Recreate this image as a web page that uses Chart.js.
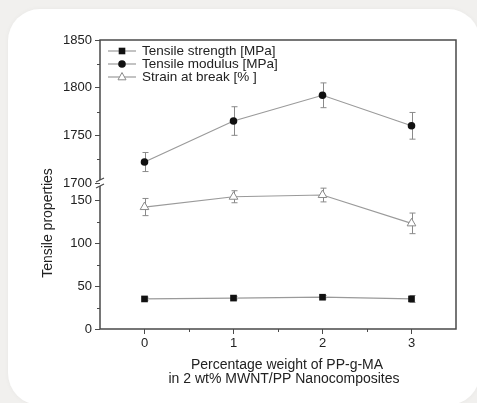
<!DOCTYPE html>
<html>
<head>
<meta charset="utf-8">
<title>Tensile properties</title>
<script src="https://cdn.jsdelivr.net/npm/chart.js@4.4.0/dist/chart.umd.min.js"></script>
<style>
    html, body { margin: 0; padding: 0; width: 477px; height: 403px; overflow: hidden; background: #f1f0ee; }
    .card { position: absolute; left: 8px; top: 9px; width: 472px; height: 396px; background: #fff; border-radius: 32px; box-shadow: 0 0 5px rgba(0,0,0,0.04); }
    #chart { position: absolute; left: 0; top: 0; }
</style>
</head>
<body>
<div class="card"></div>
<canvas id="chart" width="477" height="403"></canvas>
<script>
// data
const loadings = [0, 1, 2, 3];
const strength = [35, 36, 37, 35];
const strengthErr = [2, 2, 2, 4];
const modulus = [1722, 1765, 1792, 1760];
const modulusErr = [10, 15, 13, 14];
const strain = [142, 154, 156, 123];
const strainErr = [10, 7, 8, 12];

const xTicks = [0, 1, 2, 3];
const xMinor = [0.5, 1.5, 2.5];
const yLowTicks = [0, 50, 100, 150];
const yLowMinor = [25, 75, 125];
const yHighTicks = [1700, 1750, 1800, 1850];
const yHighMinor = [1725, 1775, 1825];

const legendLabels = ['Tensile strength [MPa]', 'Tensile modulus [MPa]', 'Strain at break [% ]'];
const yTitle = 'Tensile properties';
const xTitle = ['Percentage weight of PP-g-MA', 'in 2 wt% MWNT/PP Nanocomposites'];

const FONT = "'Liberation Sans', Arial, sans-serif";
const AXIS = '#4a4a4a';
const LINE = '#9a9a9a';

function toPoints(values) {
    return loadings.map((x, i) => ({ x: x, y: values[i] }));
}

function drawMarker(ctx, style, x, y) {
    ctx.save();
    ctx.lineWidth = 1;
    if (style === 'rect') {
        ctx.fillStyle = '#111';
        ctx.fillRect(x - 3.3, y - 3.3, 6.6, 6.6);
    } else if (style === 'circle') {
        ctx.fillStyle = '#111';
        ctx.beginPath();
        ctx.arc(x, y, 3.8, 0, Math.PI * 2);
        ctx.fill();
    } else {
        ctx.fillStyle = '#fff';
        ctx.strokeStyle = '#8a8a8a';
        ctx.beginPath();
        ctx.moveTo(x, y - 4.5);
        ctx.lineTo(x + 4, y + 2.8);
        ctx.lineTo(x - 4, y + 2.8);
        ctx.closePath();
        ctx.fill();
        ctx.stroke();
    }
    ctx.restore();
}

// error bars under the markers
const errorBars = {
    id: 'errorBars',
    beforeDatasetsDraw(chart) {
        const ctx = chart.ctx;
        ctx.save();
        ctx.strokeStyle = '#8a8a8a';
        ctx.lineWidth = 1;
        chart.data.datasets.forEach(ds => {
            const ys = chart.scales[ds.yAxisID];
            const xs = chart.scales.x;
            ds.data.forEach((p, i) => {
                const e = ds.errors[i];
                const px = Math.round(xs.getPixelForValue(p.x)) + 0.5;
                const top = ys.getPixelForValue(p.y + e);
                const bot = ys.getPixelForValue(p.y - e);
                ctx.beginPath();
                ctx.moveTo(px, top);
                ctx.lineTo(px, bot);
                ctx.moveTo(px - 3, top);
                ctx.lineTo(px + 3, top);
                ctx.moveTo(px - 3, bot);
                ctx.lineTo(px + 3, bot);
                ctx.stroke();
            });
        });
        ctx.restore();
    }
};

// box frame, axis break, minor ticks, titles and legend
const decorations = {
    id: 'decorations',
    afterDraw(chart) {
        const ctx = chart.ctx;
        const a = chart.chartArea;
        const xs = chart.scales.x;
        const yl = chart.scales.yLow;
        const yh = chart.scales.yHigh;
        const brk = yh.bottom;

        ctx.save();
        ctx.strokeStyle = AXIS;
        ctx.lineWidth = 1.5;
        ctx.beginPath();
        ctx.moveTo(a.left, brk - 3);
        ctx.lineTo(a.left, a.top);
        ctx.lineTo(a.right, a.top);
        ctx.lineTo(a.right, a.bottom);
        ctx.lineTo(a.left, a.bottom);
        ctx.lineTo(a.left, brk + 3);
        ctx.stroke();

        // break marks
        ctx.lineWidth = 1.2;
        ctx.beginPath();
        ctx.moveTo(a.left - 4, brk - 1);
        ctx.lineTo(a.left + 4, brk - 5);
        ctx.moveTo(a.left - 4, brk + 5);
        ctx.lineTo(a.left + 4, brk + 1);
        ctx.stroke();

        // minor ticks
        ctx.lineWidth = 1;
        ctx.beginPath();
        xMinor.forEach(v => {
            const px = Math.round(xs.getPixelForValue(v)) + 0.5;
            ctx.moveTo(px, a.bottom);
            ctx.lineTo(px, a.bottom + 3);
        });
        yLowMinor.forEach(v => {
            const py = Math.round(yl.getPixelForValue(v)) + 0.5;
            ctx.moveTo(a.left, py);
            ctx.lineTo(a.left - 3, py);
        });
        yHighMinor.forEach(v => {
            const py = Math.round(yh.getPixelForValue(v)) + 0.5;
            ctx.moveTo(a.left, py);
            ctx.lineTo(a.left - 3, py);
        });
        ctx.stroke();

        // axis titles
        ctx.fillStyle = '#222';
        ctx.font = '14px ' + FONT;
        ctx.textAlign = 'center';
        ctx.textBaseline = 'middle';
        ctx.fillText(xTitle[0], 287, 365);
        ctx.fillText(xTitle[1], 284, 379);
        ctx.save();
        ctx.translate(48, 223);
        ctx.rotate(-Math.PI / 2);
        ctx.fillText(yTitle, 0, 0);
        ctx.restore();

        // legend
        const styles = ['rect', 'circle', 'triangle'];
        const rows = [51, 64, 77];
        ctx.font = '13.5px ' + FONT;
        ctx.textAlign = 'left';
        rows.forEach((y, i) => {
            ctx.strokeStyle = LINE;
            ctx.lineWidth = 1.2;
            ctx.beginPath();
            ctx.moveTo(108, y);
            ctx.lineTo(136, y);
            ctx.stroke();
            drawMarker(ctx, styles[i], 122, y);
            ctx.fillStyle = '#222';
            ctx.fillText(legendLabels[i], 142, y);
        });
        ctx.restore();
    }
};

function yScale(min, max, ticks, weight) {
    return {
        type: 'linear',
        position: 'left',
        stack: 'y',
        stackWeight: weight,
        min: min,
        max: max,
        afterBuildTicks: s => { s.ticks = ticks.map(v => ({ value: v })); },
        afterFit: s => { s.width = 40; },
        border: { display: false },
        grid: { drawOnChartArea: false, drawTicks: true, tickLength: 5, color: AXIS, lineWidth: 1 },
        ticks: {
            autoSkip: false,
            padding: 3,
            color: '#222',
            font: { family: FONT, size: 13 },
            callback: v => String(v)
        }
    };
}

function initChart() {
    const ctx = document.getElementById('chart').getContext('2d');
    window.tensileChart = new Chart(ctx, {
        type: 'line',
        data: {
            datasets: [{
                label: legendLabels[0],
                data: toPoints(strength),
                errors: strengthErr,
                yAxisID: 'yLow',
                borderColor: LINE,
                borderWidth: 1.2,
                pointStyle: 'rect',
                pointRadius: 4.7,
                pointBackgroundColor: '#111',
                pointBorderColor: '#111',
                pointBorderWidth: 0
            }, {
                label: legendLabels[1],
                data: toPoints(modulus),
                errors: modulusErr,
                yAxisID: 'yHigh',
                borderColor: LINE,
                borderWidth: 1.2,
                pointStyle: 'circle',
                pointRadius: 3.8,
                pointBackgroundColor: '#111',
                pointBorderColor: '#111',
                pointBorderWidth: 0
            }, {
                label: legendLabels[2],
                data: toPoints(strain),
                errors: strainErr,
                yAxisID: 'yLow',
                borderColor: LINE,
                borderWidth: 1.2,
                pointStyle: 'triangle',
                pointRadius: 5,
                pointBackgroundColor: '#fff',
                pointBorderColor: '#8a8a8a',
                pointBorderWidth: 1
            }]
        },
        options: {
            responsive: false,
            devicePixelRatio: 1,
            animation: false,
            layout: { padding: { left: 60, top: 40, right: 21, bottom: 24 } },
            plugins: {
                legend: { display: false },
                tooltip: { enabled: false }
            },
            scales: {
                x: {
                    type: 'linear',
                    min: -0.5,
                    max: 3.5,
                    afterBuildTicks: s => { s.ticks = xTicks.map(v => ({ value: v })); },
                    afterFit: s => { s.height = 50; },
                    border: { display: false },
                    grid: { drawOnChartArea: false, drawTicks: true, tickLength: 5, color: AXIS, lineWidth: 1 },
                    ticks: {
                        autoSkip: false,
                        padding: 2,
                        maxRotation: 0,
                        color: '#222',
                        font: { family: FONT, size: 13 },
                        callback: v => String(v)
                    }
                },
                yLow: yScale(0, 170, yLowTicks, 146),
                yHigh: yScale(1700, 1850, yHighTicks, 143)
            }
        },
        plugins: [errorBars, decorations]
    });
}

document.addEventListener('DOMContentLoaded', initChart);
</script>
</body>
</html>
